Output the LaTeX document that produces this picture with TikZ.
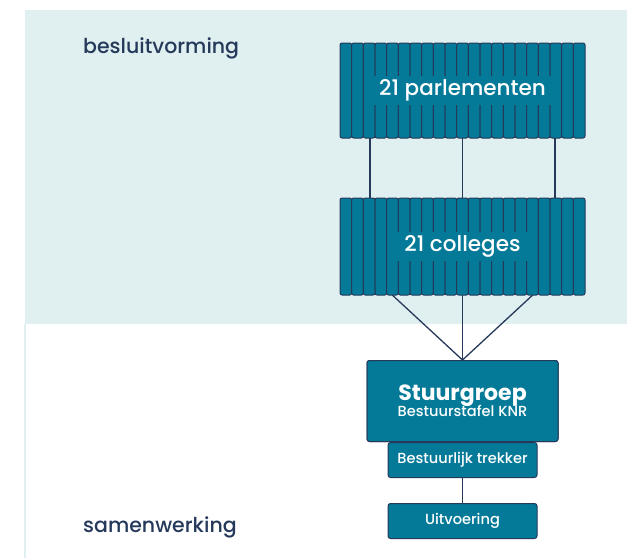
\documentclass[tikz,border=0pt]{standalone}
\usepackage{fontspec}
\setmainfont{Poppins}[UprightFont=*-Medium,BoldFont=*-Bold]
\usetikzlibrary{positioning}
\definecolor{kleurvlak}{HTML}{E0F0F0}
\definecolor{kleurblok}{HTML}{047A98}
\definecolor{kleurlijn}{HTML}{25395A}
\tikzset{
	staaf/.style={draw=kleurlijn,fill=kleurblok,line width=1pt,rounded corners=2pt},
	stapel/.style={minimum width=245pt,inner sep=0pt},
	etiket/.style={fill=kleurblok,text=white,inner sep=0pt,minimum height=29pt,font=\fontsize{21.5}{24}\selectfont},
	blok/.style={draw=kleurlijn,fill=kleurblok,line width=1pt,rounded corners=2.5pt,text=white,align=center,inner sep=0pt,minimum width=149pt,minimum height=35pt,font=\fontsize{14.6}{16}\selectfont},
	lijn/.style={draw=kleurlijn,line width=1.3pt},
	kop/.style={text=kleurlijn,font=\fontsize{20.5}{22}\selectfont,anchor=west,inner sep=0pt}
}
\begin{document}
\begin{tikzpicture}[x=1pt,y=-1pt]
	\useasboundingbox (0,0) rectangle (627,558);
	\fill[kleurvlak] (25,10) rectangle (627,324);
	\draw[kleurvlak,line width=1.5pt] (25,324) -- (25,558);
	\node[kop] (besluit) at (83,48) {besluitvorming};
	\node[kop] (samen) at (83,527) {samenwerking};
	% stapels
	\node[stapel,minimum height=95pt] (parl) at (462.5,90.5) {};
	\node[stapel,minimum height=97pt] (coll) at (462.5,246.5) {};
	\draw[lijn] (parl.south) -- (coll.north);
	\draw[lijn] ([xshift=-92.5pt]parl.south) -- ([xshift=-92.5pt]coll.north);
	\draw[lijn] ([xshift=92.5pt]parl.south) -- ([xshift=92.5pt]coll.north);
	\foreach \i in {0,...,20}{
		\draw[staaf] (340+\i*11.667,43) rectangle +(11.667,95);
		\draw[staaf] (340+\i*11.667,198) rectangle +(11.667,97);
	}
	\node[etiket,minimum width=178pt] (parltekst) at (parl) {21 parlementen};
	\node[etiket,minimum width=135pt] (colltekst) at (coll) {21 colleges};
	% stuurgroep
	\node[blok,minimum width=191pt,minimum height=81pt] (stuur) at (462.5,401) {};
	\node[blok,below=0pt of stuur] (trekker) {Bestuurlijk trekker};
	\node[blok,minimum width=191pt,minimum height=81pt] at (stuur) {{\bfseries\fontsize{22}{24}\selectfont Stuurgroep}\\[-2pt]Bestuurstafel KNR};
	\node[blok,below=25pt of trekker] (uitvoer) {Uitvoering};
	\draw[lijn] ([xshift=-70pt]coll.south) -- (stuur.north);
	\draw[lijn] (coll.south) -- (stuur.north);
	\draw[lijn] ([xshift=70pt]coll.south) -- (stuur.north);
	\draw[lijn] (trekker.south) -- (uitvoer.north);
\end{tikzpicture}
\end{document}
